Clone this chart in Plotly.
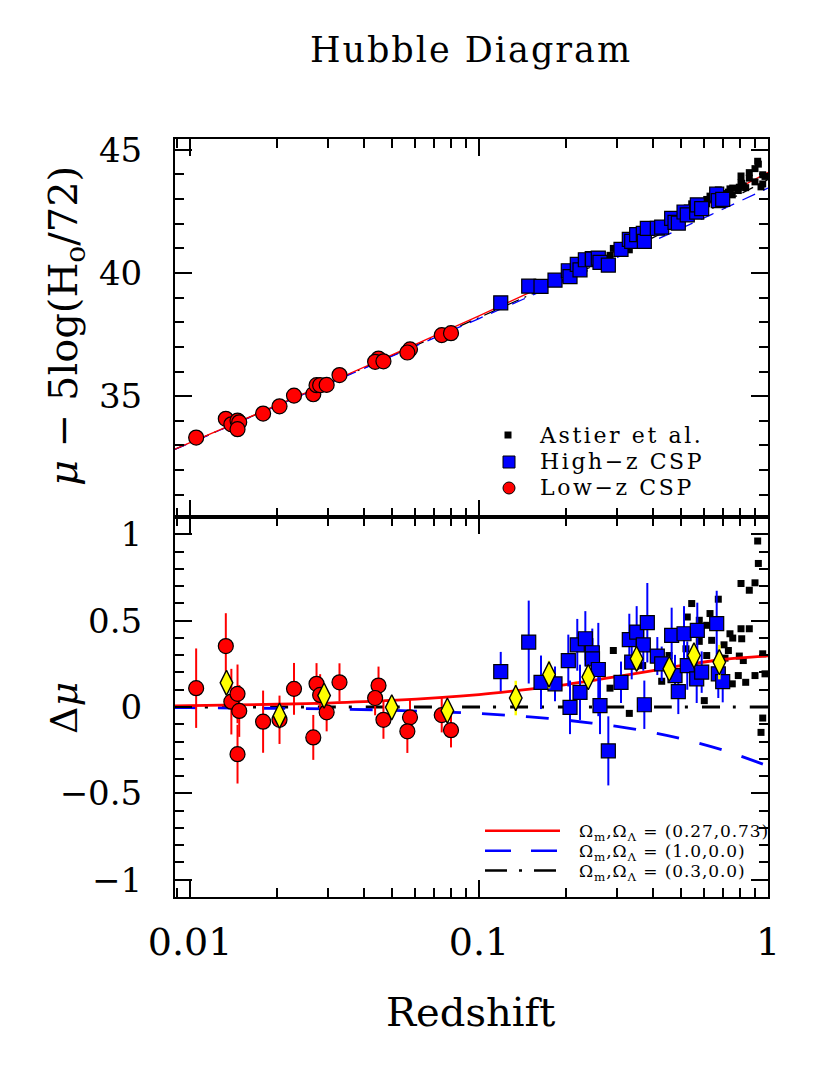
import numpy as np
import plotly.graph_objects as go

# ---- model curves (residuals are relative to Om=0.3, OL=0) ----
z_model = [0.0088, 0.01, 0.02, 0.03, 0.05, 0.1, 0.15, 0.2, 0.3, 0.4, 0.5, 0.7, 1.0]
mu_lcdm = [32.835, 33.115, 34.637, 35.534, 36.677, 38.259, 39.212, 39.905,
           40.909, 41.642, 42.223, 43.116, 44.079]
dmu_lcdm = [0.007, 0.008, 0.016, 0.023, 0.038, 0.072, 0.103, 0.130,
            0.176, 0.211, 0.239, 0.275, 0.296]
dmu_eds = [-0.003, -0.004, -0.008, -0.011, -0.019, -0.038, -0.057, -0.076,
           -0.112, -0.148, -0.183, -0.250, -0.342]
dmu_open = [0.0] * len(z_model)

# ---- Low-z CSP ----
z_low = [0.0105, 0.0133, 0.0139, 0.0146, 0.0148, 0.0146, 0.0179, 0.0204, 0.0229,
         0.0267, 0.0274, 0.0282, 0.0297, 0.0329, 0.0449, 0.0437, 0.0467, 0.0577,
         0.0565, 0.0743, 0.0800]
dmu_low = [0.109, 0.353, 0.031, 0.076, -0.023, -0.273, -0.085, -0.074, 0.105,
           -0.176, 0.134, 0.070, -0.031, 0.143, 0.124, 0.052, -0.074, -0.060,
           -0.141, -0.047, -0.134]
err_low = [0.23, 0.19, 0.19, 0.17, 0.15, 0.17, 0.18, 0.14, 0.15,
           0.13, 0.12, 0.12, 0.11, 0.11, 0.11, 0.10, 0.11, 0.10,
           0.125, 0.10, 0.10]

# ---- High-z CSP ----
z_high = [0.1189, 0.1486, 0.1639, 0.1832, 0.2037, 0.2065, 0.2188, 0.2236, 0.2333,
          0.2466, 0.2470, 0.2587, 0.2622, 0.2802, 0.3100, 0.3312, 0.3376, 0.3512,
          0.3703, 0.3733, 0.3823, 0.4140, 0.4287, 0.4641, 0.4767, 0.4894, 0.5122,
          0.5256, 0.5666, 0.5693, 0.5896, 0.6645, 0.6730, 0.6971]
dmu_high = [0.205, 0.376, 0.143, 0.134, 0.269, -0.002, 0.360, 0.085, 0.395,
            0.314, 0.279, 0.217, 0.008, -0.254, 0.143, 0.390, 0.260, 0.434,
            0.360, 0.013, 0.488, 0.295, 0.250, 0.415, 0.182, 0.089, 0.424,
            0.240, 0.163, 0.444, 0.202, 0.483, 0.192, 0.147]
err_high = [0.114, 0.24, 0.155, 0.10, 0.15, 0.155, 0.15, 0.16, 0.16,
            0.14, 0.12, 0.27, 0.165, 0.20, 0.12, 0.15, 0.10, 0.15,
            0.15, 0.14, 0.23, 0.11, 0.10, 0.16, 0.12, 0.13, 0.16,
            0.14, 0.14, 0.16, 0.12, 0.19, 0.14, 0.12]

# ---- Astier et al. ----
z_ast = [0.921, 0.926, 0.8065, 0.8616, 0.9016, 0.5445, 0.673, 0.5256, 0.5783, 0.630,
         0.6137, 0.8065, 0.8616, 0.7386, 0.755, 0.811, 0.6385, 0.5783, 0.2916, 0.7044,
         0.7293, 0.6137, 0.7099, 0.8214, 0.9587, 0.7957, 0.3685, 0.4545, 0.4287, 0.7892,
         0.9016, 0.9764, 0.8372, 0.7523, 0.284, 0.6019, 0.3312, 0.9587, 0.9458, 0.5202]
dmu_ast = [0.961, 0.831, 0.715, 0.676, 0.719, 0.599, 0.624, 0.521, 0.502, 0.541,
           0.473, 0.453, 0.453, 0.424, 0.399, 0.395, 0.386, 0.380, 0.327, 0.360,
           0.327, 0.298, 0.283, 0.269, 0.308, 0.295, 0.240, 0.298, 0.149, 0.182,
           0.182, 0.192, 0.143, 0.134, 0.109, 0.037, -0.037, -0.064, -0.147, 0.337]

# ---- binned averages (yellow diamonds) ----
z_bin = [0.01337, 0.0204, 0.0291, 0.0499, 0.0777, 0.134, 0.1747, 0.2388,
         0.351, 0.4555, 0.5545, 0.6785]
dmu_bin = [0.14, -0.05, 0.066, -0.002, -0.021, 0.052, 0.188, 0.173,
           0.279, 0.221, 0.298, 0.26]
err_bin = [0.07, 0.05, 0.05, 0.05, 0.05, 0.10, 0.08, 0.06, 0.06, 0.07, 0.07, 0.10]

# legend labels
legend_top = ["Astier et al.", "High\u2212z CSP", "Low\u2212z CSP"]
legend_models = ["(0.27,0.73)", "(1.0,0.0)", "(0.3,0.0)"]

# top panel distances: reference model + residual
mu_open = np.array(mu_lcdm) - np.array(dmu_lcdm)
mu_eds = mu_open + np.array(dmu_eds)
lz_model = np.log10(z_model)


def top_mu(z, dmu):
    return np.interp(np.log10(z), lz_model, mu_open) + np.array(dmu)


FONT = "DejaVu Serif"
RED, BLUE, YEL = "#ff0000", "#0000ff", "#ffff00"

# frame in screen pixels (the page body adds an 8px offset)
L, R, T, B = 175, 768, 139, 897
PAGE = 8


def px(x):
    return (x - L) / (R - L)


def py(y):
    return (B - y) / (B - T)


def spaced(text, size=None, spacing=2):
    style = f"letter-spacing:{spacing}px"
    if size:
        style += f";font-size:{size}px"
    return f'<span style="{style}">{text}</span>'


fig = go.Figure()

# ---------------- top panel ----------------
for mu, col, dash in [(mu_open, "black", "12px,6px,2px,6px"),
                      (mu_eds, BLUE, "14px,9px"),
                      (mu_lcdm, RED, "solid")]:
    fig.add_trace(go.Scatter(x=z_model, y=mu, mode="lines", line_shape="spline",
                             line=dict(color=col, width=1.3, dash=dash),
                             xaxis="x", yaxis="y", showlegend=False, hoverinfo="skip"))

fig.add_trace(go.Scatter(x=z_ast, y=top_mu(z_ast, dmu_ast), mode="markers",
                         marker=dict(symbol="square", size=7, color="black"),
                         xaxis="x", yaxis="y", showlegend=False))
fig.add_trace(go.Scatter(x=z_high, y=top_mu(z_high, dmu_high), mode="markers",
                         marker=dict(symbol="square", size=14, color=BLUE,
                                     line=dict(color="black", width=1.2)),
                         xaxis="x", yaxis="y", showlegend=False))
fig.add_trace(go.Scatter(x=z_low, y=top_mu(z_low, dmu_low), mode="markers",
                         marker=dict(symbol="circle", size=15, color=RED,
                                     line=dict(color="black", width=1.2)),
                         xaxis="x", yaxis="y", showlegend=False))

# ---------------- bottom panel ----------------
fig.add_trace(go.Scatter(x=z_ast, y=dmu_ast, mode="markers",
                         marker=dict(symbol="square", size=7, color="black"),
                         xaxis="x2", yaxis="y2", showlegend=False))
for res, col, dash in [(dmu_open, "black", "18px,13px,3px,14px"),
                       (dmu_eds, BLUE, "23px,21px"),
                       (dmu_lcdm, RED, "solid")]:
    fig.add_trace(go.Scatter(x=z_model, y=res, mode="lines", line_shape="spline",
                             line=dict(color=col, width=2.8, dash=dash),
                             xaxis="x2", yaxis="y2", showlegend=False, hoverinfo="skip"))
fig.add_trace(go.Scatter(x=z_low, y=dmu_low, mode="markers",
                         error_y=dict(type="data", array=err_low, color=RED,
                                      thickness=2, width=0),
                         marker=dict(symbol="circle", size=15, color=RED,
                                     line=dict(color="black", width=1.2)),
                         xaxis="x2", yaxis="y2", showlegend=False))
fig.add_trace(go.Scatter(x=z_high, y=dmu_high, mode="markers",
                         error_y=dict(type="data", array=err_high, color=BLUE,
                                      thickness=2, width=0),
                         marker=dict(symbol="square", size=14, color=BLUE,
                                     line=dict(color="black", width=1.2)),
                         xaxis="x2", yaxis="y2", showlegend=False))
fig.add_trace(go.Scatter(x=z_bin, y=dmu_bin, mode="markers",
                         error_y=dict(type="data", array=err_bin, color=YEL,
                                      thickness=2.5, width=0),
                         marker=dict(symbol="diamond-tall", size=18, color=YEL,
                                     line=dict(color="black", width=1.4)),
                         xaxis="x2", yaxis="y2", showlegend=False))

# ---------------- axes ----------------
frame = dict(showline=True, linecolor="black", linewidth=2, mirror="allticks",
             ticks="inside", ticklen=17, tickwidth=1.5, tickcolor="black",
             showgrid=False, zeroline=False)
xcommon = dict(type="log", range=[-2.052, 0.0], tickvals=[0.01, 0.1, 1],
               ticktext=["0.01", "0.1", "1"],
               minor=dict(ticks="inside", ticklen=9, tickwidth=1.5, dtick="D1",
                          tickcolor="black", showgrid=False), **frame)

fig.update_layout(
    xaxis=dict(anchor="y", showticklabels=False, **xcommon),
    xaxis2=dict(anchor="y2", showticklabels=True,
                tickfont=dict(family=FONT, size=38, color="black"),
                ticklabelstandoff=10, **xcommon),
    yaxis=dict(domain=[py(517), 1], anchor="x", range=[30.1, 45.43],
               tickvals=[35, 40, 45], ticktext=["35", "40", "45"],
               tickfont=dict(family=FONT, size=34, color="black"),
               ticklabelstandoff=24,
               minor=dict(ticks="inside", ticklen=9, tickwidth=1.5, dtick=1,
                          tickcolor="black", showgrid=False), **frame),
    yaxis2=dict(domain=[0, py(517)], anchor="x2", range=[-1.1, 1.1],
                tickvals=[-1, -0.5, 0, 0.5, 1],
                ticktext=["\u22121", "\u22120.5", "0", "0.5", "1"],
                tickfont=dict(family=FONT, size=34, color="black"),
                ticklabelstandoff=24,
                minor=dict(ticks="inside", ticklen=9, tickwidth=1.5, dtick=0.1,
                           tickcolor="black", showgrid=False), **frame),
)

# ---------------- legends (keys drawn as shapes) ----------------
shapes = [
    dict(type="rect", x0=px(504.5), x1=px(511.5), y0=py(438.5), y1=py(431.5),
         fillcolor="black", line=dict(width=0)),
    dict(type="rect", x0=px(503), x1=px(515), y0=py(468), y1=py(456),
         fillcolor=BLUE, line=dict(color="black", width=1)),
    dict(type="circle", x0=px(503), x1=px(515), y0=py(494), y1=py(482),
         fillcolor=RED, line=dict(color="black", width=1)),
]
for yy, col, dash in [(830.7, RED, "solid"), (850.7, BLUE, "26px,20px"),
                      (870.5, "black", "22px,12px,3px,12px")]:
    shapes.append(dict(type="line", x0=px(485), x1=px(560), y0=py(yy), y1=py(yy),
                       line=dict(color=col, width=2.5, dash=dash)))
for s in shapes:
    s.update(xref="paper", yref="paper")

annotations = [
    # 20px line box gives the 26px row pitch; glyphs drawn at 22px, letter-spaced
    dict(x=px(537), y=py(462),
         text="<br>".join(spaced(t, size=22, spacing=2.6) for t in legend_top),
         align="left", xanchor="left", yanchor="middle",
         font=dict(family=FONT, size=20, color="black")),
    # 15.4px line box gives the 20px row pitch; glyphs drawn at 17px
    dict(x=px(577), y=py(852),
         text="<br>".join(spaced("\u03a9<sub>m</sub>,\u03a9<sub>\u039b</sub> = " + p,
                                 size=17, spacing=0.9)
                          for p in legend_models),
         align="left", xanchor="left", yanchor="middle",
         font=dict(family=FONT, size=15.4, color="black")),
]

# axis titles
annotations.append(dict(x=px(66), y=py(326), textangle=-90, xanchor="center", yanchor="middle",
                        text="<i>\u03bc</i>\u00a0\u2212\u00a05log(H<sub>o</sub>/72)",
                        font=dict(family=FONT, size=40, color="black")))
annotations.append(dict(x=px(64), y=py(708), textangle=-90, xanchor="center", yanchor="middle",
                        text="\u0394<i>\u03bc</i>",
                        font=dict(family=FONT, size=38, color="black")))
annotations.append(dict(x=px(470), y=py(1012), xanchor="center", yanchor="middle",
                        text="Redshift", font=dict(family=FONT, size=40, color="black")))
for a in annotations:
    a.update(xref="paper", yref="paper", showarrow=False)

fig.update_layout(
    title=dict(text=spaced("Hubble Diagram", spacing=2), x=(471 - PAGE) / 830,
               xanchor="center", y=1 - (50 - PAGE) / 1075, yanchor="middle",
               font=dict(family=FONT, size=35, color="black")),
    shapes=shapes, annotations=annotations,
    width=830, height=1075,
    margin=dict(l=L - PAGE, r=830 - (R - PAGE), t=T - PAGE, b=1075 - (B - PAGE), pad=0),
    paper_bgcolor="white", plot_bgcolor="white",
    font=dict(family=FONT, color="black"),
    showlegend=False,
)

fig.write_html("out.html")
